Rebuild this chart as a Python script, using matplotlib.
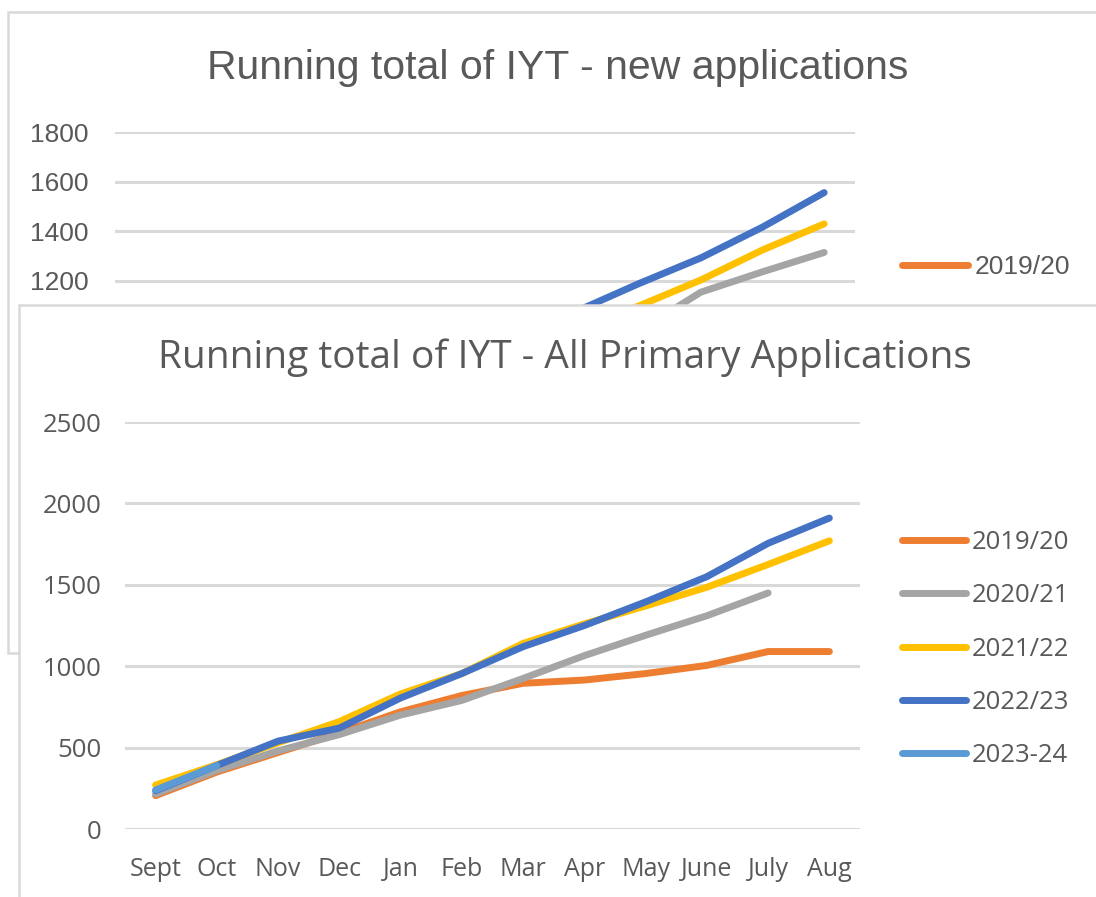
import matplotlib
matplotlib.use("Agg")
import matplotlib.pyplot as plt
from matplotlib.patches import Rectangle
import numpy as np

W, H = 1096, 897
months = ["Sept", "Oct", "Nov", "Dec", "Jan", "Feb", "Mar", "Apr", "May", "June", "July", "Aug"]
series_names = ["2019/20", "2020/21", "2021/22", "2022/23", "2023-24"]
colors = ["#ED7D31", "#A5A5A5", "#FFC000", "#4472C4", "#5B9BD5"]

# Front chart: All Primary Applications
all_2019 = [205, 350, 470, 590, 720, 820, 895, 915, 955, 1005, 1090, 1090]
all_2020 = [215, 360, 480, 580, 700, 790, 925, 1065, 1190, 1310, 1450, None]
all_2021 = [270, 395, 530, 660, 830, 955, 1140, 1260, 1370, 1485, 1625, 1770]
all_2022 = [235, 390, 540, 620, 805, 955, 1120, 1250, 1395, 1550, 1755, 1910]
all_2023 = [240, 390, None, None, None, None, None, None, None, None, None, None]
front_series = [all_2019, all_2020, all_2021, all_2022, all_2023]

# Back chart: new applications (only the upper part is visible)
new_2019 = [None] * 12
new_2020 = [None, None, None, None, None, None, None, 900, 1000, 1155, 1237, 1315]
new_2021 = [None, None, None, None, None, None, None, 1000, 1100, 1204, 1325, 1430]
new_2022 = [None, None, None, None, None, None, None, 1080, 1190, 1293, 1417, 1556]
new_2023 = [None] * 12
back_series = [new_2019, new_2020, new_2021, new_2022, new_2023]

front_yticks = [0, 500, 1000, 1500, 2000, 2500]
back_yticks = [1200, 1400, 1600, 1800]   # visible part of the back chart axis

FRONT_FONT = ["Open Sans", "DejaVu Sans"]
BACK_FONT = ["Liberation Sans Narrow", "Liberation Sans", "DejaVu Sans"]
TXT = "#595959"
GRID = "#D9D9D9"


def to_vals(lst):
    return np.array([np.nan if v is None else v for v in lst], dtype=float)


def ax_rect(left, right, top, bottom):
    return [left / W, 1 - bottom / H, (right - left) / W, (bottom - top) / H]


fig = plt.figure(figsize=(W / 100, H / 100), dpi=100)
fig.patch.set_facecolor("white")

x = np.arange(len(months))

# ---------------- back chart ----------------
fig.add_artist(Rectangle((8 / W, 1 - 653 / H), (W + 20) / W, (653 - 12) / H,
                         transform=fig.transFigure, facecolor="white",
                         edgecolor=GRID, linewidth=1.8, zorder=0.1))
axb = fig.add_axes(ax_rect(115, 855, 132, 579), zorder=0.2)
axb.set_facecolor("none")
back_lines = []
for name, c, vals in zip(series_names, colors, back_series):
    ln, = axb.plot(x, to_vals(vals), color=c, linewidth=5, solid_capstyle="round",
                   solid_joinstyle="round", label=name)
    back_lines.append(ln)
axb.set_xlim(-0.5, len(months) - 0.5)
axb.set_ylim(0, 1800)
axb.set_yticks(back_yticks)
axb.set_xticks([])
axb.grid(axis="y", color=GRID, linewidth=2.2)
axb.set_axisbelow(True)
for s in axb.spines.values():
    s.set_visible(False)
axb.tick_params(length=0, pad=19, labelcolor=TXT, labelsize=19)
for lab in axb.get_yticklabels():
    lab.set_family(BACK_FONT)
# only the first legend entry of the back chart is visible
legb = axb.legend(handles=back_lines[:1], loc="upper left",
                  bbox_to_anchor=(902 / W, 1 - 255 / H),
                  bbox_transform=fig.transFigure, frameon=False,
                  prop={"family": BACK_FONT, "size": 19}, handlelength=2.5,
                  handletextpad=0.25, borderpad=0, borderaxespad=0)
for t in legb.get_texts():
    t.set_color(TXT)
fig.text(558 / W, 1 - 68 / H, "Running total of IYT - new applications",
         ha="center", va="center", fontsize=29.5, color=TXT, family=BACK_FONT,
         zorder=0.3)

# ---------------- front chart ----------------
fig.add_artist(Rectangle((19 / W, -0.05), (W + 20) / W, (1 - 305 / H) + 0.05,
                         transform=fig.transFigure, facecolor="white",
                         edgecolor=GRID, linewidth=1.8, zorder=1))
axf = fig.add_axes(ax_rect(125, 860, 422, 829), zorder=2)
axf.set_facecolor("none")
for name, c, vals in zip(series_names, colors, front_series):
    axf.plot(x, to_vals(vals), color=c, linewidth=5, solid_capstyle="round",
             solid_joinstyle="round", label=name)
axf.set_xlim(-0.5, len(months) - 0.5)
axf.set_ylim(0, 2500)
axf.set_yticks(front_yticks)
axf.set_xticks(x)
axf.set_xticklabels(months)
axf.grid(axis="y", color=GRID, linewidth=2.2)
axf.set_axisbelow(True)
for s in axf.spines.values():
    s.set_visible(False)
axf.tick_params(axis="y", length=0, pad=17, labelcolor=TXT, labelsize=18.5)
axf.tick_params(axis="x", length=0, pad=20, labelcolor=TXT, labelsize=18)
for lab in axf.get_yticklabels() + axf.get_xticklabels():
    lab.set_family(FRONT_FONT)
legf = axf.legend(loc="upper left", bbox_to_anchor=(902 / W, 1 - 530 / H),
                  bbox_transform=fig.transFigure, frameon=False,
                  prop={"family": FRONT_FONT, "size": 18.5}, handlelength=2.5,
                  handletextpad=0.2, labelspacing=1.1, borderpad=0,
                  borderaxespad=0)
for t in legf.get_texts():
    t.set_color(TXT)
fig.text(565 / W, 1 - 358 / H, "Running total of IYT - All Primary Applications",
         ha="center", va="center", fontsize=28, color=TXT, family=FRONT_FONT,
         zorder=3)

fig.savefig("out.png", dpi=100, facecolor="white")
